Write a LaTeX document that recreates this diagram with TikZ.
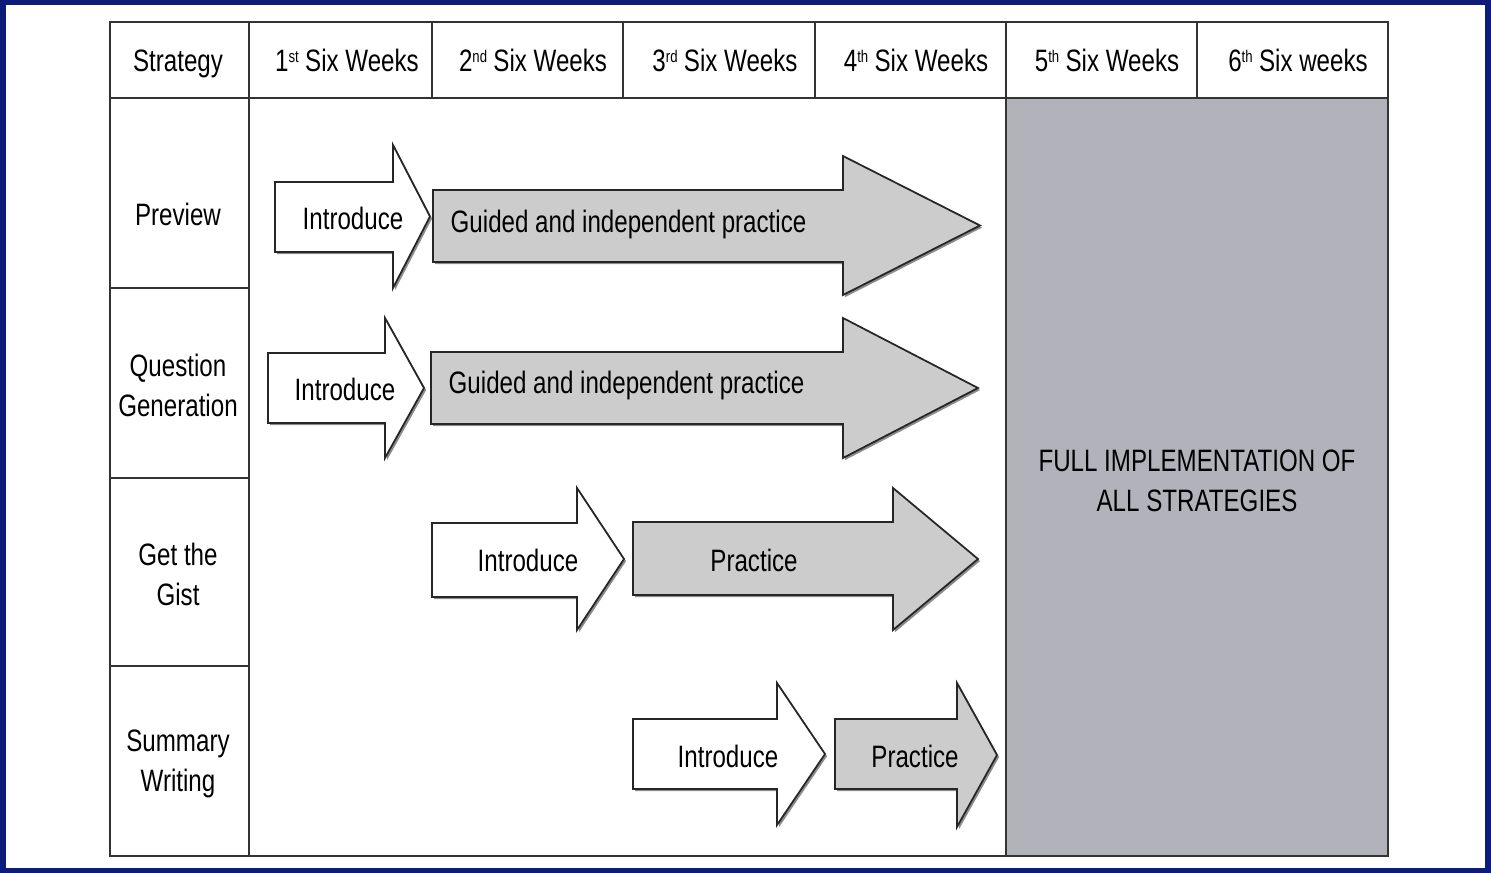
\documentclass[tikz,border=0pt]{standalone}
\usepackage{fontspec}
\setmainfont[FakeStretch=0.78]{Liberation Sans}
\usetikzlibrary{shadows,positioning}
\definecolor{framenavy}{RGB}{12,28,120}
\definecolor{arrowgrey}{RGB}{204,204,204}
\definecolor{fullgrey}{RGB}{178,178,186}
\tikzset{
  grid/.style={draw=black!80, line width=0.7pt},
  lbl/.style={inner sep=0pt, align=center, font=\fontsize{8.8}{11.4}\selectfont},
  headlbl/.style={lbl, anchor=base},
  arrshadow/.style={drop shadow={shadow xshift=0.6pt, shadow yshift=-0.6pt, opacity=0.45, fill=black}},
  introarr/.style={draw=black!85, line width=0.5pt, fill=white, arrshadow},
  practarr/.style={draw=black!85, line width=0.5pt, fill=arrowgrey, arrshadow}
}
% small raised ordinal
\newcommand{\ordsup}[1]{\raisebox{2.6pt}{\fontsize{4.8}{5}\selectfont #1}\hspace{1.8pt}}
% block arrow: start x, head base x, tip x, body top, body bottom, head top, head bottom
\newcommand{\blockarr}[8][]{%
  \path[#1] (#2,#5) -- (#3,#5) -- (#3,#7) -- (#4,{(#7+#8)/2}) -- (#3,#8) -- (#3,#6) -- (#2,#6) -- cycle;}

\begin{document}
\begin{tikzpicture}[x=0.01cm, y=-0.01cm]
	\useasboundingbox (0,0) rectangle (1491,873);
	\fill[white] (0,0) rectangle (1491,873);
	\draw[framenavy, line width=1.7pt] (3,2) rectangle (1488,871);

	% grey block for weeks 5 and 6
	\fill[fullgrey] (1006,98) rectangle (1388,856);

	% table lines
	\draw[grid] (110,22) rectangle (1388,856);
	\draw[grid] (110,98) -- (1388,98);
	\draw[grid] (249,22) -- (249,856);
	\foreach \x in {432,623,815,1197}
		\draw[grid] (\x,22) -- (\x,98);
	\draw[grid] (1006,22) -- (1006,856);
	\foreach \y in {288,478,666}
		\draw[grid] (110,\y) -- (249,\y);

	% header
	\node[headlbl] (strategy) at (178,72) {Strategy};
	\node[headlbl] (wk1) at (347,72) {1\ordsup{st}Six Weeks};
	\node[headlbl] (wk2) at (533,72) {2\ordsup{nd}Six Weeks};
	\node[headlbl] (wk3) at (725,72) {3\ordsup{rd}Six Weeks};
	\node[headlbl] (wk4) at (916,72) {4\ordsup{th}Six Weeks};
	\node[headlbl] (wk5) at (1107,72) {5\ordsup{th}Six Weeks};
	\node[headlbl] (wk6) at (1298,72) {6\ordsup{th}Six weeks};

	% strategies
	\node[lbl] (preview) at (178,214) {Preview};
	\node[lbl] (question) at (178,385) {Question\\Generation};
	\node[lbl] (gist) at (178,574) {Get the\\Gist};
	\node[lbl] (summary) at (178,764) {Summary\\Writing};

	% arrows
	\blockarr[introarr]{275}{393}{430}{182}{252}{145}{288}
	\blockarr[practarr]{433}{843}{980}{190}{262}{156}{295}
	\blockarr[introarr]{268}{385}{424}{353}{423}{318}{458}
	\blockarr[practarr]{431}{843}{978}{352}{424}{318}{458}
	\blockarr[introarr]{432}{577}{624}{523}{597}{488}{630}
	\blockarr[practarr]{633}{893}{978}{522}{595}{488}{630}
	\blockarr[introarr]{633}{777}{825}{719}{789}{683}{825}
	\blockarr[practarr]{835}{957}{997}{719}{789}{683}{827}

	\node[lbl] (intro1) at (353,218) {Introduce};
	\node[lbl, anchor=west] (guided1) at (450,224) {Guided and independent practice};
	\node[lbl] (intro2) at (345,389) {Introduce};
	\node[lbl, anchor=west] (guided2) at (448,385) {Guided and independent practice};
	\node[lbl] (intro3) at (528,560) {Introduce};
	\node[lbl] (pract3) at (754,560) {Practice};
	\node[lbl] (intro4) at (728,756) {Introduce};
	\node[lbl] (pract4) at (915,756) {Practice};

	\node[lbl] (full) at (1197,481) {FULL IMPLEMENTATION OF\\ALL STRATEGIES};
\end{tikzpicture}
\end{document}
